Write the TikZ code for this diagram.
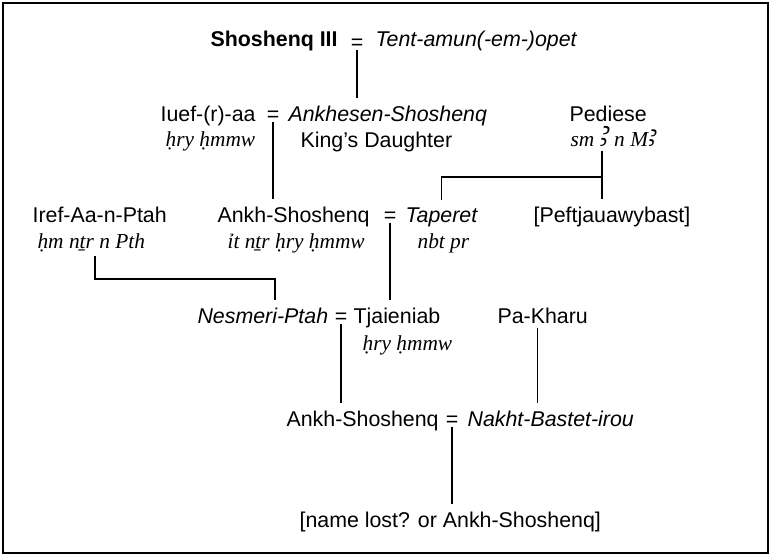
\documentclass[tikz,border=0pt]{standalone}
\usepackage{fontspec}
\setmainfont{Liberation Sans}
\newfontfamily\translit{Liberation Serif}
\newfontfamily\alef{Noto Sans}
\newcommand\famsize{\fontsize{15.2pt}{18pt}\selectfont}
\newcommand\alefsign[1]{{\alef\fontsize{20pt}{18pt}\selectfont #1}}

\begin{document}
\begin{tikzpicture}[x=0.25mm,y=-0.25mm,line width=0.8pt,font=\famsize,
    person/.style={anchor=base west,inner sep=0pt},
    personit/.style={person,font=\famsize\itshape},
    title/.style={person,font=\famsize\translit\itshape},
    wed/.style={anchor=base,inner sep=0pt},
    kin/.style={shorten >=5pt}]
    \useasboundingbox (0,0) rectangle (772,556);
    \draw[line width=1.2pt] (3,3) rectangle (768,553);

    \node[person,font=\famsize\bfseries] (shosh) at (210,46) {Shoshenq III};
    \node[wed] (eqa) at (357,49) {=};
    \node[personit] (tent) at (375,46) {Tent-amun(-em-)opet};

    \node[person] (iuef) at (160,121) {Iuef-(r)-aa};
    \node[wed] (eqb) at (273,121) {=};
    \node[personit] (ankhesen) at (288,121) {Ankhesen-Shoshenq};
    \node[title] (iueft) at (165,146) {ḥry ḥmmw};
    \node[person] (kingd) at (300,147) {King’s Daughter};
    \node[person] (pediese) at (569,121) {Pediese};
    \node[title] (pedt) at (570,146) {sm \alefsign{Ꜣ} n M\alefsign{ꜣ}};

    \node[person] (iref) at (32,222) {Iref-Aa-n-Ptah};
    \node[person] (ankha) at (217,222) {Ankh-Shoshenq};
    \node[wed] (eqc) at (390,222) {=};
    \node[personit] (taperet) at (405,222) {Taperet};
    \node[person] (peft) at (533,222) {[Peftjauawybast]};
    \node[title] (ireft) at (37,248) {ḥm nṯr n Pth};
    \node[title] (ankhat) at (227,248) {ỉt nṯr ḥry ḥmmw};
    \node[title] (tapt) at (417,248) {nbt pr};

    \node[personit] (nesmeri) at (197,323) {Nesmeri-Ptah};
    \node[wed] (eqd) at (341,323) {=};
    \node[person] (tjai) at (353,323) {Tjaieniab};
    \node[person] (pakharu) at (497,323) {Pa-Kharu};
    \node[title] (tjait) at (362,350) {ḥry ḥmmw};

    \node[person] (ankhb) at (286,426) {Ankh-Shoshenq};
    \node[wed] (eqe) at (452,426) {=};
    \node[personit] (nakht) at (467,426) {Nakht-Bastet-irou};

    \node[person] (lost) at (299,527) {[name lost? or Ankh-Shoshenq]};

    \coordinate (pedfork) at (602,177);
    \coordinate (irefbend) at (95,279);
    \coordinate (nesbend) at (275,279);

    \draw[kin] (eqa.south) -- (eqa.south |- ankhesen.north);
    \draw[kin] (eqb.south) -- (eqb.south |- ankha.north);
    \draw[kin,shorten <=3pt] (pedt.south -| pedfork) -- (peft.north -| pedfork);
    \draw[kin] (pedfork) -| (taperet.north);
    \draw[kin,shorten <=3pt] (ireft.south -| irefbend) -- (irefbend)
        -- (nesbend) -- (nesbend |- nesmeri.north);
    \draw[kin] (eqc.south) -- (eqc.south |- tjai.north);
    \draw[kin] (eqd.south) -- (eqd.south |- ankhb.north);
    \draw[kin,shorten <=3pt] ([xshift=-3.5pt]pakharu.south)
        -- ([xshift=-3.5pt]pakharu.south |- nakht.north);
    \draw[kin] (eqe.south) -- (eqe.south |- lost.north);
\end{tikzpicture}
\end{document}
